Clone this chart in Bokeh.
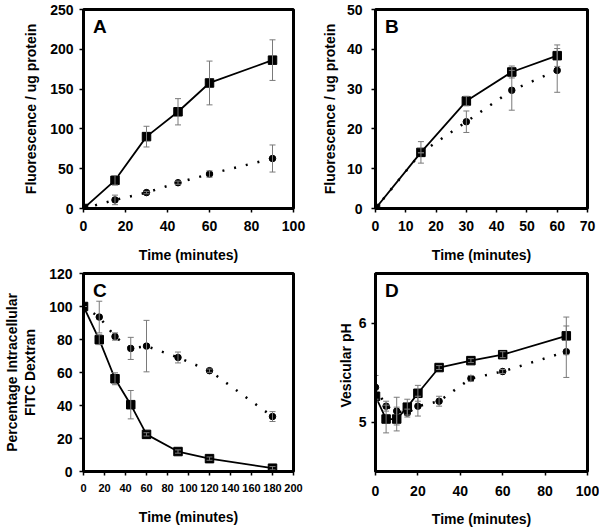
from bokeh.plotting import figure
from bokeh.models import Whisker, ColumnDataSource, Label, FixedTicker, Range1d, TeeHead, Title
from bokeh.layouts import gridplot
from bokeh.embed import file_html
from bokeh.resources import INLINE

# ---------------- data ----------------
# Panel A
a_t = [0, 15, 30, 45, 60, 90]
a_sq = [0, 35.4, 90.3, 121.5, 157.7, 186.4]
a_sq_err = [0, 6, 13, 16.5, 27.5, 25.5]
a_ci = [0, 10.8, 20, 32.4, 43.3, 62.8]
a_ci_err = [0, 6, 1.5, 2, 4, 17]

# Panel B
b_t = [0, 15, 30, 45, 60]
b_sq = [0, 14.1, 27.0, 34.3, 38.4]
b_sq_err = [0, 2.7, 1.2, 1.5, 2.7]
b_ci = [0, 14.0, 21.8, 29.7, 34.7]
b_ci_err = [0, 0, 2.7, 5.0, 5.5]

# Panel C
c_t = [0, 15, 30, 45, 60, 90, 120, 180]
c_sq = [100, 79.9, 56.2, 40.5, 22.5, 12.1, 7.8, 2.0]
c_sq_err = [0, 3, 3.6, 8.6, 1, 1, 1, 1]
c_ci = [100, 93.6, 81.8, 74.6, 76.0, 69.1, 61.1, 33.3]
c_ci_err = [0, 9.6, 2.2, 6.7, 15.6, 3.3, 1, 3]

# Panel D
d_t = [0, 5, 10, 15, 20, 30, 45, 60, 90]
d_sq = [5.26, 5.03, 5.03, 5.15, 5.29, 5.55, 5.62, 5.68, 5.87]
d_sq_err = [0.05, 0.14, 0.12, 0.08, 0.08, 0.02, 0.02, 0.03, 0.19]
d_ci = [5.35, 5.16, 5.11, 5.09, 5.16, 5.21, 5.44, 5.51, 5.71]
d_ci_err = [0.12, 0.05, 0.14, 0.04, 0.1, 0.05, 0.03, 0.02, 0.26]

FONT = "Liberation Sans"


def panel(letter, t, sq, sq_err, ci, ci_err, xr, yr, xticks, yticks, ylabel,
          width, height, bl, br, bt, bb, xtick_size="14px", xlab_standoff=8,
          ylab_standoff=6, ylabel_standoff=8, xlabel_standoff=12):
    p = figure(width=width, height=height, x_range=Range1d(*xr), y_range=Range1d(*yr),
               output_backend="svg", toolbar_location=None, tools="",
               min_border_left=bl, min_border_right=br, min_border_top=bt, min_border_bottom=bb)
    p.xgrid.visible = False
    p.ygrid.visible = False
    p.outline_line_color = "black"
    p.outline_line_width = 3
    p.outline_line_alpha = 1
    p.background_fill_color = "white"
    p.border_fill_color = "white"

    for ax in (p.xaxis[0], p.yaxis[0]):
        ax.axis_line_width = 3
        ax.axis_line_color = "black"
        ax.major_tick_out = 4
        ax.major_tick_in = 0
        ax.major_tick_line_width = 1.5
        ax.minor_tick_line_color = None
        ax.major_label_text_font = FONT
        ax.major_label_text_font_style = "bold"
        ax.major_label_text_color = "black"
        ax.axis_label_text_font = FONT
        ax.axis_label_text_font_style = "bold"
        ax.axis_label_text_font_size = "14px"
        ax.axis_label_text_color = "black"
        ax.axis_label_text_line_height = 1.15

    p.xaxis.ticker = FixedTicker(ticks=xticks)
    p.yaxis.ticker = FixedTicker(ticks=yticks)
    p.xaxis.major_label_text_font_size = xtick_size
    p.yaxis.major_label_text_font_size = "14px"
    p.xaxis.major_label_standoff = xlab_standoff
    p.yaxis.major_label_standoff = ylab_standoff
    p.xaxis.axis_label = "Time (minutes)"
    p.xaxis.axis_label_standoff = xlabel_standoff
    if ylabel is not None:
        p.yaxis.axis_label = ylabel
        p.yaxis.axis_label_standoff = ylabel_standoff

    ci_src = ColumnDataSource(dict(x=t, y=ci, upper=[v + e for v, e in zip(ci, ci_err)],
                                   lower=[v - e for v, e in zip(ci, ci_err)]))
    sq_src = ColumnDataSource(dict(x=t, y=sq, upper=[v + e for v, e in zip(sq, sq_err)],
                                   lower=[v - e for v, e in zip(sq, sq_err)]))

    for src in (ci_src, sq_src):
        w = Whisker(source=src, base="x", upper="upper", lower="lower",
                    line_color="#7a7a7a", line_width=1,
                    upper_head=TeeHead(size=6, line_color="#7a7a7a", line_width=1),
                    lower_head=TeeHead(size=6, line_color="#7a7a7a", line_width=1))
        w.level = "glyph"
        p.add_layout(w)

    p.line("x", "y", source=ci_src, line_color="black", line_width=2.5,
           line_dash="2 10")
    p.scatter("x", "y", source=ci_src, marker="circle", size=6.5,
              fill_color="black", line_color="black")
    p.line("x", "y", source=sq_src, line_color="black", line_width=1.8)
    p.scatter("x", "y", source=sq_src, marker="square", size=8.5,
              fill_color="black", line_color="black")

    x0, x1 = xr
    y0, y1 = yr
    p.add_layout(Label(x=x0 + 0.045 * (x1 - x0), y=y1 - 0.035 * (y1 - y0), text=letter,
                       text_font=FONT, text_font_style="bold", text_font_size="19px",
                       text_baseline="top", text_align="left", text_color="black"))
    return p


pa = panel("A", a_t, a_sq, a_sq_err, a_ci, a_ci_err, (0, 100), (0, 250),
           list(range(0, 101, 20)), list(range(0, 251, 50)), "Fluorescence / ug protein",
           306, 265, 81, 13, 9, 56, ylab_standoff=6, ylabel_standoff=8, xlabel_standoff=13)
pb = panel("B", b_t, b_sq, b_sq_err, b_ci, b_ci_err, (0, 70), (0, 50),
           list(range(0, 71, 10)), list(range(0, 51, 10)), "Fluorescence / ug protein",
           293, 265, 69, 12, 9, 56, ylab_standoff=9, ylabel_standoff=6, xlabel_standoff=13)
pc = panel("C", c_t, c_sq, c_sq_err, c_ci, c_ci_err, (0, 200), (0, 120),
           list(range(0, 201, 20)), list(range(0, 121, 20)),
           "Percentage Intracellular\nFITC Dextran",
           306, 265, 78, 13, 8, 55, xtick_size="11px", xlab_standoff=8,
           ylab_standoff=7, ylabel_standoff=8, xlabel_standoff=14)
pd = panel("D", d_t, d_sq, d_sq_err, d_ci, d_ci_err, (0, 100), (4.5, 6.5),
           list(range(0, 101, 20)), [5, 6], None,
           293, 265, 66, 10, 8, 59, xlab_standoff=10, ylab_standoff=5, xlabel_standoff=12)
# D's axis title sits above the middle of the frame in the reference
pd.add_layout(Title(text="Vesicular pH", align="left", offset=64,
                    text_font=FONT, text_font_style="bold", text_font_size="14px",
                    text_color="black", standoff=4), "left")

grid = gridplot([[pa, pb], [pc, pd]], toolbar_location=None)

open("out.html", "w").write(file_html(grid, INLINE))
